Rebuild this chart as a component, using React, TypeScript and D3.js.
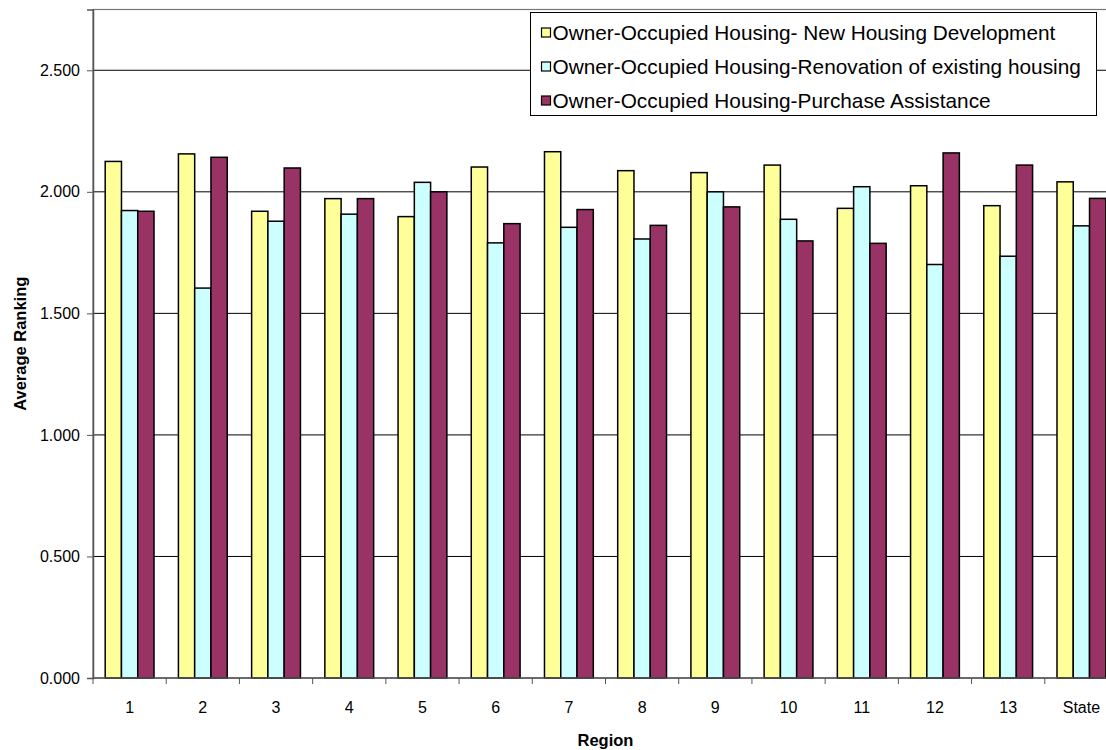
import React, { useEffect, useRef } from "react";
import * as d3 from "d3";

const regions = ["1", "2", "3", "4", "5", "6", "7", "8", "9", "10", "11", "12", "13", "State"];
const seriesNames = [
  "Owner-Occupied Housing- New Housing Development",
  "Owner-Occupied Housing-Renovation of existing housing",
  "Owner-Occupied Housing-Purchase Assistance",
];
const newDevelopment = [2.125, 2.156, 1.92, 1.972, 1.898, 2.102, 2.165, 2.087, 2.079, 2.11, 1.932, 2.025, 1.943, 2.041];
const renovation = [1.923, 1.604, 1.879, 1.908, 2.039, 1.79, 1.854, 1.806, 2.0, 1.887, 2.021, 1.701, 1.735, 1.86];
const purchase = [1.92, 2.142, 2.098, 1.972, 2.0, 1.869, 1.927, 1.862, 1.938, 1.798, 1.788, 2.16, 2.11, 1.973];
const yTicks = [0, 0.5, 1.0, 1.5, 2.0, 2.5];
const colors = ["#FFFF99", "#CCFFFF", "#993366"];

const App: React.FC = () => {
  const svgRef = useRef<SVGSVGElement>(null);

  useEffect(() => {
    if (!svgRef.current) return;
    const svg = d3.select(svgRef.current);
    svg.selectAll("*").remove();

    const width = 1106;
    const height = 750;
    const margin = { top: 9.5, left: 93, bottom: 72, right: -12 };
    const font = "Arial, 'Liberation Sans', sans-serif";

    const series = [newDevelopment, renovation, purchase];

    // scales
    const x = d3
      .scaleBand()
      .domain(regions)
      .range([margin.left, width - margin.right])
      .paddingInner(0)
      .paddingOuter(0);
    const bw = x.bandwidth();
    const xInner = d3
      .scaleBand()
      .domain(["0", "1", "2"])
      .range([bw / 6, (bw * 5) / 6]);

    const y = d3
      .scaleLinear()
      .domain([0, 2.75])
      .range([height - margin.bottom, margin.top]);

    const x0 = margin.left;
    const x1 = width - margin.right;
    const yBase = y(0);

    // gridlines
    svg
      .append("g")
      .selectAll("line")
      .data(yTicks.filter((t) => t > 0))
      .enter()
      .append("line")
      .attr("x1", x0)
      .attr("x2", x1)
      .attr("y1", (d) => y(d))
      .attr("y2", (d) => y(d))
      .attr("stroke", "#000")
      .attr("stroke-width", 1);

    // plot border
    svg
      .append("rect")
      .attr("x", x0)
      .attr("y", margin.top)
      .attr("width", x1 - x0)
      .attr("height", yBase - margin.top)
      .attr("fill", "none")
      .attr("stroke", "#777")
      .attr("stroke-width", 1.2);

    // bars
    series.forEach((vals, si) => {
      svg
        .append("g")
        .selectAll("rect")
        .data(vals)
        .enter()
        .append("rect")
        .attr("x", (_d, i) => x(regions[i])! + xInner(String(si))!)
        .attr("y", (d) => y(d))
        .attr("width", xInner.bandwidth())
        .attr("height", (d) => yBase - y(d))
        .attr("fill", colors[si])
        .attr("stroke", "#000")
        .attr("stroke-width", 1.5);
    });

    // y axis
    const yAxis = svg
      .append("g")
      .attr("transform", `translate(${x0},0)`)
      .call(d3.axisLeft(y).tickValues(yTicks).tickSize(6).tickFormat(d3.format(".3f")));
    yAxis.select(".domain").attr("stroke", "#555").attr("stroke-width", 1.5);
    yAxis.selectAll(".tick line").attr("stroke", "#555");
    yAxis
      .selectAll("text")
      .attr("font-family", font)
      .attr("font-size", 16)
      .attr("fill", "#000")
      .attr("x", -13);

    // x axis
    const xAxisG = svg.append("g");
    xAxisG
      .append("line")
      .attr("x1", x0)
      .attr("x2", x1)
      .attr("y1", yBase)
      .attr("y2", yBase)
      .attr("stroke", "#555")
      .attr("stroke-width", 1.5);
    xAxisG
      .selectAll(".xt")
      .data(regions)
      .enter()
      .append("line")
      .attr("x1", (d) => x(d)!)
      .attr("x2", (d) => x(d)!)
      .attr("y1", yBase)
      .attr("y2", yBase + 6)
      .attr("stroke", "#555");
    xAxisG
      .selectAll("text")
      .data(regions)
      .enter()
      .append("text")
      .attr("x", (d) => x(d)! + bw / 2)
      .attr("y", yBase + 34.5)
      .attr("text-anchor", "middle")
      .attr("font-family", font)
      .attr("font-size", 16)
      .text((d) => d);

    // axis titles
    svg
      .append("text")
      .attr("x", (margin.left + width - margin.right) / 2)
      .attr("y", 745.5)
      .attr("text-anchor", "middle")
      .attr("font-family", font)
      .attr("font-size", 16.5)
      .attr("font-weight", "bold")
      .text("Region");
    svg
      .append("text")
      .attr("transform", `translate(26,${(margin.top + yBase) / 2}) rotate(-90)`)
      .attr("text-anchor", "middle")
      .attr("font-family", font)
      .attr("font-size", 16.5)
      .attr("font-weight", "bold")
      .text("Average Ranking");

    // legend
    const lg = svg.append("g").attr("transform", "translate(530.5,12.5)");
    lg.append("rect")
      .attr("width", 566)
      .attr("height", 103)
      .attr("fill", "#fff")
      .attr("stroke", "#000")
      .attr("stroke-width", 1);
    seriesNames.forEach((name, i) => {
      const cy = 20 + i * 34;
      lg.append("rect")
        .attr("x", 11)
        .attr("y", cy - 4.5)
        .attr("width", 9)
        .attr("height", 9)
        .attr("fill", colors[i])
        .attr("stroke", "#000")
        .attr("stroke-width", 1.2);
      lg.append("text")
        .attr("x", 22)
        .attr("y", cy + 7.5)
        .attr("font-family", font)
        .attr("font-size", 20.8)
        .text(name);
    });
  }, []);

  return (
    <svg
      ref={svgRef}
      width={1106}
      height={750}
      style={{ position: "absolute", left: 0, top: 0, background: "#fff" }}
    ></svg>
  );
};

export default App;
